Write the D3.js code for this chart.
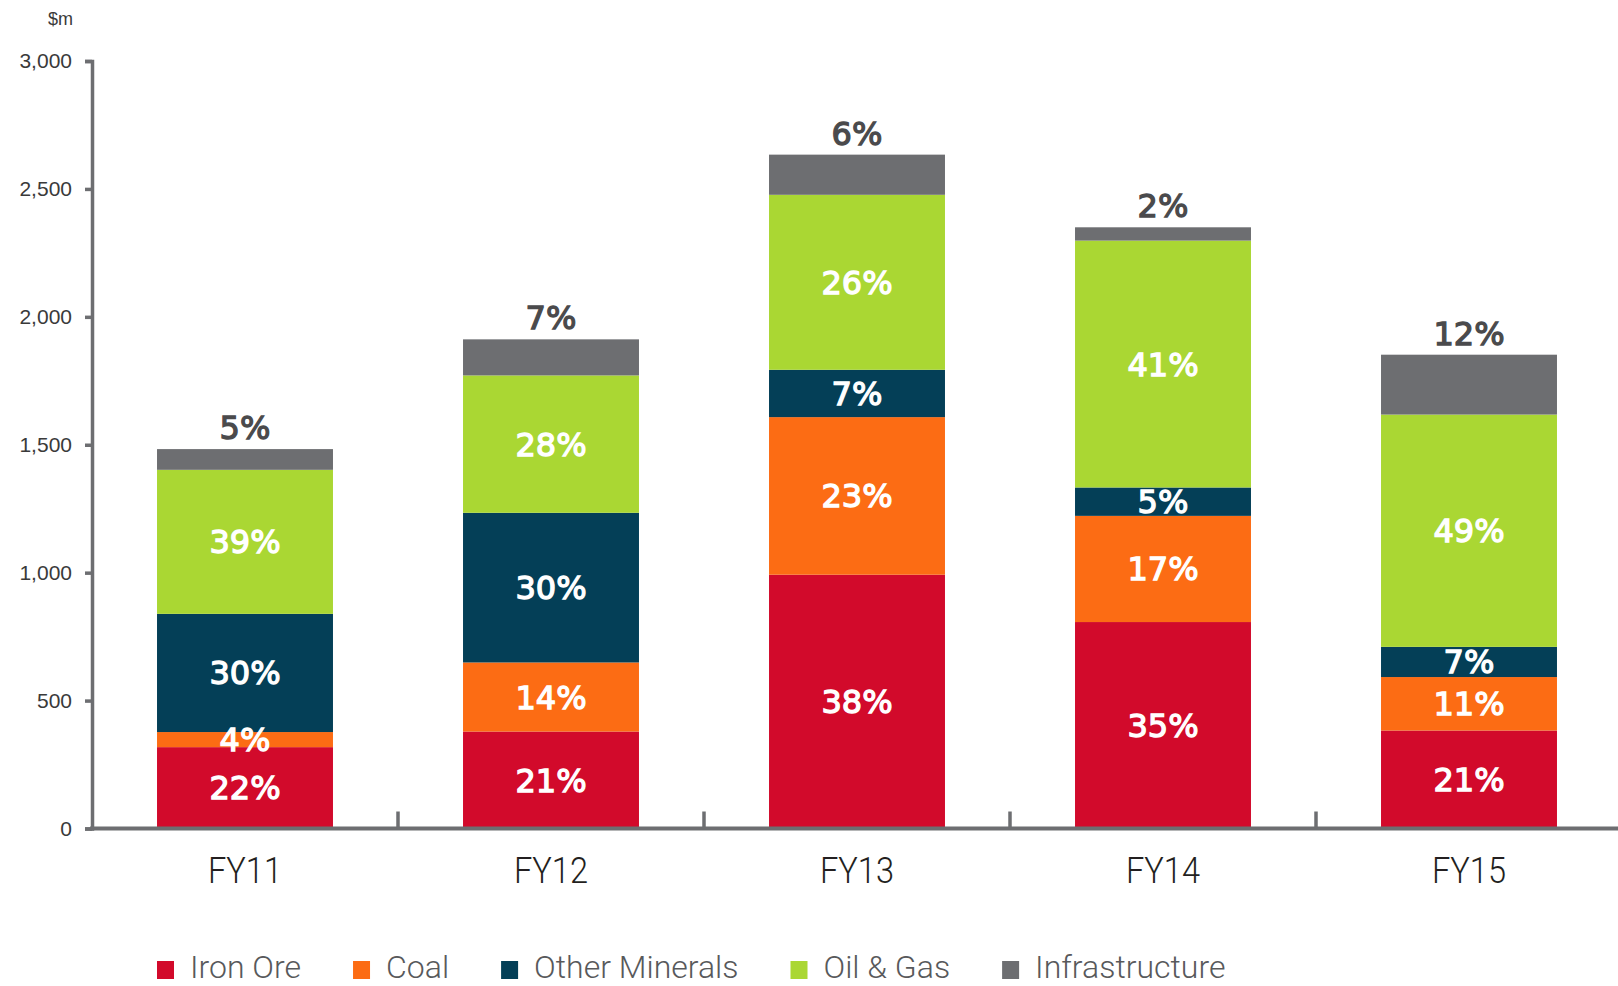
<!DOCTYPE html>
<html>
<head>
<meta charset="utf-8">
<script src="https://cdn.jsdelivr.net/npm/d3@7"></script>
<style>
  body { margin: 0; background: #fff; }
  svg { display: block; }
</style>
</head>
<body>
<div id="chart"></div>
<script>
const width = 1618;
const height = 986;

// Data ($m)
const years = ["FY11", "FY12", "FY13", "FY14", "FY15"];
const ironOre = [318, 379, 992, 807, 383];
const coal = [59, 270, 616, 415, 209];
const otherMinerals = [462, 585, 185, 111, 118];
const oilGas = [563, 537, 684, 965, 908];
const infrastructure = [81, 141, 157, 52, 234];

// Share labels as printed on the bars
const ironOreLabels = ["22%", "21%", "38%", "35%", "21%"];
const coalLabels = ["4%", "14%", "23%", "17%", "11%"];
const otherLabels = ["30%", "30%", "7%", "5%", "7%"];
const oilGasLabels = ["39%", "28%", "26%", "41%", "49%"];
const infraLabels = ["5%", "7%", "6%", "2%", "12%"];

const seriesNames = ["Iron Ore", "Coal", "Other Minerals", "Oil & Gas", "Infrastructure"];
const seriesKeys = ["iron", "coal", "other", "oil", "infra"];
const seriesColors = ["#d20a2b", "#fc6c14", "#043f57", "#aad733", "#6d6e71"];
const yTicks = [0, 500, 1000, 1500, 2000, 2500, 3000];

const rows = years.map((y, i) => ({
  year: y,
  iron: ironOre[i],
  coal: coal[i],
  other: otherMinerals[i],
  oil: oilGas[i],
  infra: infrastructure[i]
}));
const labels = {
  iron: ironOreLabels,
  coal: coalLabels,
  other: otherLabels,
  oil: oilGasLabels,
  infra: infraLabels
};

const svg = d3.select("#chart")
  .append("svg")
  .attr("width", width)
  .attr("height", height);

const axisColor = "#6d6e71";

// Scales
const x = d3.scaleBand()
  .domain(years)
  .range([92, 1622])
  .paddingInner(0.425)
  .paddingOuter(0.2125);

const y = d3.scaleLinear()
  .domain([0, 3000])
  .range([828.5, 61]);

const color = d3.scaleOrdinal()
  .domain(seriesKeys)
  .range(seriesColors);

const stacked = d3.stack().keys(seriesKeys)(rows);

// Bars
const layers = svg.append("g")
  .selectAll("g")
  .data(stacked)
  .join("g")
  .attr("fill", d => color(d.key));

layers.selectAll("rect")
  .data(d => d)
  .join("rect")
  .attr("x", d => x(d.data.year))
  .attr("y", d => y(d[1]))
  .attr("width", x.bandwidth())
  .attr("height", d => y(d[0]) - y(d[1]));

// Segment labels (white, inside), infrastructure label above the bar
stacked.forEach(layer => {
  const isTop = layer.key === "infra";
  const c = isTop ? "#4a4a4c" : "#ffffff";
  svg.append("g")
    .selectAll("text")
    .data(layer)
    .join("text")
    .attr("x", d => x(d.data.year) + x.bandwidth() / 2)
    .attr("y", d => isTop ? y(d[1]) - 10 : (y(d[0]) + y(d[1])) / 2)
    .attr("dy", isTop ? 0 : "0.36em")
    .attr("text-anchor", "middle")
    .style("font-family", "'DejaVu Sans', sans-serif")
    .style("font-size", "32px")
    .style("fill", c)
    .style("stroke", c)
    .style("stroke-width", 1.3)
    .text((d, i) => labels[layer.key][i]);
});

// Y axis
const yAxis = svg.append("g")
  .attr("transform", "translate(92,0)")
  .call(d3.axisLeft(y)
    .tickValues(yTicks)
    .tickFormat(d3.format(","))
    .tickSize(7)
    .tickPadding(13));

yAxis.select(".domain")
  .attr("stroke", axisColor)
  .attr("stroke-width", 3.5);
yAxis.selectAll(".tick line")
  .attr("stroke", axisColor)
  .attr("stroke-width", 3.5);
yAxis.selectAll(".tick text")
  .style("font-family", "'Liberation Sans', Arial, sans-serif")
  .style("font-size", "21px")
  .style("fill", "#3a3a3a");

svg.append("text")
  .attr("x", 73)
  .attr("y", 25)
  .attr("text-anchor", "end")
  .style("font-family", "'Liberation Sans', Arial, sans-serif")
  .style("font-size", "18px")
  .style("fill", "#3a3a3a")
  .text("$m");

// X axis: baseline and ticks between the bars
svg.append("line")
  .attr("x1", 90)
  .attr("x2", 1622)
  .attr("y1", y(0))
  .attr("y2", y(0))
  .attr("stroke", axisColor)
  .attr("stroke-width", 4);

svg.append("g")
  .selectAll("line")
  .data(years.slice(0, -1))
  .join("line")
  .attr("x1", d => x(d) + x.bandwidth() / 2 + x.step() / 2)
  .attr("x2", d => x(d) + x.bandwidth() / 2 + x.step() / 2)
  .attr("y1", y(0))
  .attr("y2", y(0) - 17)
  .attr("stroke", axisColor)
  .attr("stroke-width", 3.5);

svg.append("g")
  .selectAll("text")
  .data(years)
  .join("text")
  .attr("transform", d => `translate(${x(d) + x.bandwidth() / 2},883) scale(0.88,1)`)
  .attr("text-anchor", "middle")
  .style("font-family", "Roboto, sans-serif")
  .style("font-weight", 300)
  .style("font-size", "37px")
  .style("fill", "#231f20")
  .text(d => d);

// Legend
const legend = svg.append("g");
let lx = 157;
seriesNames.forEach((name, i) => {
  const item = legend.append("g").attr("transform", `translate(${lx},0)`);
  item.append("rect")
    .attr("x", 0)
    .attr("y", 961)
    .attr("width", 17)
    .attr("height", 18)
    .attr("fill", seriesColors[i]);
  const t = item.append("text")
    .attr("x", 33)
    .attr("y", 978)
    .style("font-family", "Roboto, sans-serif")
    .style("font-weight", 300)
    .style("font-size", "32px")
    .style("fill", "#58595b")
    .text(name);
  lx += 33 + t.node().getComputedTextLength() + 52;
});
</script>
</body>
</html>
